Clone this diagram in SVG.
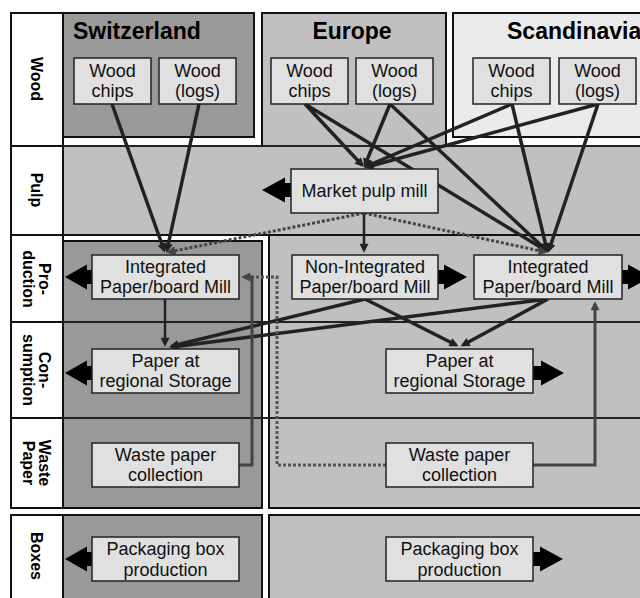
<svg xmlns="http://www.w3.org/2000/svg" width="640" height="598" viewBox="0 0 640 598">
<defs>
<style>
.lbl{font-family:"Liberation Sans",Arial,sans-serif;font-weight:bold;font-size:16px;fill:#000;text-anchor:middle}
.ttl{font-family:"Liberation Sans",Arial,sans-serif;font-weight:bold;font-size:23px;fill:#000}
.nt{font-family:"Liberation Sans",Arial,sans-serif;font-size:18px;fill:#111;text-anchor:middle}
.nb{fill:#e0e0e0;stroke:#222;stroke-width:1.5}
.cell{fill:#fff;stroke:#111;stroke-width:2}
.pan{stroke:#111;stroke-width:2}
.blk{fill:#000}
.c{fill:none;stroke:#222;stroke-width:3.5}
.c2{fill:none;stroke:#222;stroke-width:2.5}
.dash{fill:none;stroke:#444;stroke-width:3;stroke-dasharray:3 2}
.wp{fill:none;stroke:#444;stroke-width:3}
.wpd{fill:none;stroke:#555;stroke-width:3;stroke-dasharray:3 2}
.row{stroke:#222;stroke-width:2}
</style>
<marker id="ah" viewBox="0 0 10 10" markerUnits="userSpaceOnUse" markerWidth="10" markerHeight="9" refX="7" refY="5" orient="auto">
<path d="M0,0 L10,5 L0,10 z" fill="#222"/>
</marker>
<marker id="ahg" viewBox="0 0 10 10" markerUnits="userSpaceOnUse" markerWidth="10" markerHeight="9" refX="7" refY="5" orient="auto">
<path d="M0,0 L10,5 L0,10 z" fill="#444"/>
</marker>
</defs>
<rect width="640" height="598" fill="#fff"/>

<g id="panels">
<rect class="pan" x="63" y="13" width="191" height="124" fill="#999"/>
<rect class="pan" x="262" y="13" width="184" height="133" fill="#c0c0c0"/>
<rect class="pan" x="453" y="13" width="195" height="124" fill="#ebebeb"/>
<rect class="pan" x="63" y="146" width="590" height="89" fill="#c0c0c0"/>
<rect class="pan" x="269" y="235" width="380" height="273" fill="#c0c0c0"/>
<rect class="pan" x="63" y="241" width="199" height="267" fill="#999"/>
<rect class="pan" x="63" y="515" width="199" height="90" fill="#999"/>
<rect class="pan" x="269" y="515" width="380" height="90" fill="#c0c0c0"/>
<line class="row" x1="11" y1="322" x2="640" y2="322"/>
<line class="row" x1="11" y1="418" x2="640" y2="418"/>
<line class="row" x1="11" y1="146" x2="640" y2="146"/>
<text class="ttl" x="73" y="39">Switzerland</text>
<text class="ttl" x="352" y="39" text-anchor="middle">Europe</text>
<text class="ttl" x="507" y="39">Scandinavia</text>
</g>

<g id="row-labels">
<rect class="cell" x="11" y="13" width="52" height="133"/>
<rect class="cell" x="11" y="146" width="52" height="89"/>
<rect class="cell" x="11" y="235" width="52" height="87"/>
<rect class="cell" x="11" y="322" width="52" height="96"/>
<rect class="cell" x="11" y="418" width="52" height="90"/>
<rect class="cell" x="11" y="515" width="52" height="90"/>
<text class="lbl" transform="translate(37,79) rotate(90)" y="6">Wood</text>
<text class="lbl" transform="translate(37,190) rotate(90)" y="6">Pulp</text>
<text class="lbl" transform="translate(37,279) rotate(90)"><tspan x="0" y="-2">Pro-</tspan><tspan x="0" y="14">duction</tspan></text>
<text class="lbl" transform="translate(37,370) rotate(90)"><tspan x="0" y="-2">Con-</tspan><tspan x="0" y="14">sumption</tspan></text>
<text class="lbl" transform="translate(37,463) rotate(90)"><tspan x="0" y="-2">Waste</tspan><tspan x="0" y="14">Paper</tspan></text>
<text class="lbl" transform="translate(37,556) rotate(90)" y="6">Boxes</text>
</g>

<g id="connectors">
<line class="c" x1="112" y1="104" x2="164" y2="250" marker-end="url(#ah)"/>
<line class="c" x1="199" y1="104" x2="167" y2="250" marker-end="url(#ah)"/>
<line class="c" x1="305" y1="104" x2="362" y2="165" marker-end="url(#ah)"/>
<line class="c" x1="390" y1="104" x2="365" y2="165" marker-end="url(#ah)"/>
<line class="c" x1="512" y1="104" x2="367" y2="166" marker-end="url(#ah)"/>
<line class="c" x1="598" y1="104" x2="367" y2="167" marker-end="url(#ah)"/>
<line class="c" x1="305" y1="104" x2="545" y2="250" marker-end="url(#ah)"/>
<line class="c" x1="390" y1="104" x2="546" y2="250" marker-end="url(#ah)"/>
<line class="c" x1="512" y1="104" x2="547" y2="250" marker-end="url(#ah)"/>
<line class="c" x1="598" y1="104" x2="549" y2="250" marker-end="url(#ah)"/>
<line class="c2" x1="364" y1="213" x2="364" y2="250" marker-end="url(#ah)"/>
<line class="dash" x1="364" y1="213" x2="169" y2="252" marker-end="url(#ahg)"/>
<line class="dash" x1="364" y1="213" x2="545" y2="252" marker-end="url(#ahg)"/>
<line class="c2" x1="165" y1="299" x2="165" y2="344" marker-end="url(#ah)"/>
<line class="c" x1="365" y1="299" x2="172" y2="346" marker-end="url(#ah)"/>
<line class="c" x1="548" y1="299" x2="172" y2="347" marker-end="url(#ah)"/>
<line class="c" x1="365" y1="299" x2="456" y2="345" marker-end="url(#ah)"/>
<line class="c" x1="548" y1="299" x2="463" y2="345" marker-end="url(#ah)"/>
<polyline class="wpd" points="386,465 277,465 277,277 252,277"/>
<polyline class="wp" points="239,465 252,465 252,277 244,277" marker-end="url(#ahg)"/>
<polyline class="wp" points="533,465 595,465 595,304" marker-end="url(#ahg)"/>
</g>

<g id="sw-chips"><rect class="nb" x="74" y="58" width="77" height="46"/><text class="nt" x="112.5" y="77">Wood</text><text class="nt" x="112.5" y="97">chips</text></g>
<g id="sw-logs"><rect class="nb" x="159" y="58" width="77" height="46"/><text class="nt" x="197.5" y="77">Wood</text><text class="nt" x="197.5" y="97">(logs)</text></g>
<g id="eu-chips"><rect class="nb" x="271" y="58" width="77" height="46"/><text class="nt" x="309.5" y="77">Wood</text><text class="nt" x="309.5" y="97">chips</text></g>
<g id="eu-logs"><rect class="nb" x="356" y="58" width="77" height="46"/><text class="nt" x="394.5" y="77">Wood</text><text class="nt" x="394.5" y="97">(logs)</text></g>
<g id="sc-chips"><rect class="nb" x="473" y="58" width="77" height="46"/><text class="nt" x="511.5" y="77">Wood</text><text class="nt" x="511.5" y="97">chips</text></g>
<g id="sc-logs"><rect class="nb" x="559" y="58" width="77" height="46"/><text class="nt" x="597.5" y="77">Wood</text><text class="nt" x="597.5" y="97">(logs)</text></g>

<g id="market-pulp">
<path class="blk" d="M262,190 L285,177.5 L285,183 L292,183 L292,197 L285,197 L285,202.5 Z"/>
<rect class="nb" x="291" y="169" width="147" height="44"/><text class="nt" x="364.5" y="197">Market pulp mill</text></g>

<g id="sw-mill">
<path class="blk" d="M65,277 L87,264.5 L87,270 L93,270 L93,284 L87,284 L87,289.5 Z"/>
<rect class="nb" x="92" y="255" width="147" height="44"/><text class="nt" x="165.5" y="273">Integrated</text><text class="nt" x="165.5" y="293">Paper/board Mill</text></g>
<g id="eu-nonint">
<path class="blk" d="M467,277 L444,264.5 L444,270 L437,270 L437,284 L444,284 L444,289.5 Z"/>
<rect class="nb" x="292" y="255" width="146" height="44"/><text class="nt" x="365" y="273">Non-Integrated</text><text class="nt" x="365" y="293">Paper/board Mill</text></g>
<g id="sc-mill">
<path class="blk" d="M651,277 L628,264.5 L628,270 L621,270 L621,284 L628,284 L628,289.5 Z"/>
<rect class="nb" x="474" y="255" width="148" height="44"/><text class="nt" x="548" y="273">Integrated</text><text class="nt" x="548" y="293">Paper/board Mill</text></g>

<g id="sw-storage">
<path class="blk" d="M65,373 L87,360.5 L87,366 L93,366 L93,380 L87,380 L87,385.5 Z"/>
<rect class="nb" x="92" y="349" width="147" height="44"/><text class="nt" x="165.5" y="367">Paper at</text><text class="nt" x="165.5" y="387">regional Storage</text></g>
<g id="eu-storage">
<path class="blk" d="M564,373 L541,360.5 L541,366 L532,366 L532,380 L541,380 L541,385.5 Z"/>
<rect class="nb" x="386" y="349" width="147" height="44"/><text class="nt" x="459.5" y="367">Paper at</text><text class="nt" x="459.5" y="387">regional Storage</text></g>

<g id="sw-waste"><rect class="nb" x="92" y="443" width="147" height="44"/><text class="nt" x="165.5" y="461">Waste paper</text><text class="nt" x="165.5" y="481">collection</text></g>
<g id="eu-waste"><rect class="nb" x="386" y="443" width="147" height="44"/><text class="nt" x="459.5" y="461">Waste paper</text><text class="nt" x="459.5" y="481">collection</text></g>

<g id="sw-boxes">
<path class="blk" d="M65,559 L87,546.5 L87,552 L93,552 L93,566 L87,566 L87,571.5 Z"/>
<rect class="nb" x="92" y="537" width="147" height="44"/><text class="nt" x="165.5" y="555">Packaging box</text><text class="nt" x="165.5" y="576">production</text></g>
<g id="eu-boxes">
<path class="blk" d="M563,559 L540,546.5 L540,552 L532,552 L532,566 L540,566 L540,571.5 Z"/>
<rect class="nb" x="386" y="537" width="147" height="44"/><text class="nt" x="459.5" y="555">Packaging box</text><text class="nt" x="459.5" y="576">production</text></g>
</svg>
